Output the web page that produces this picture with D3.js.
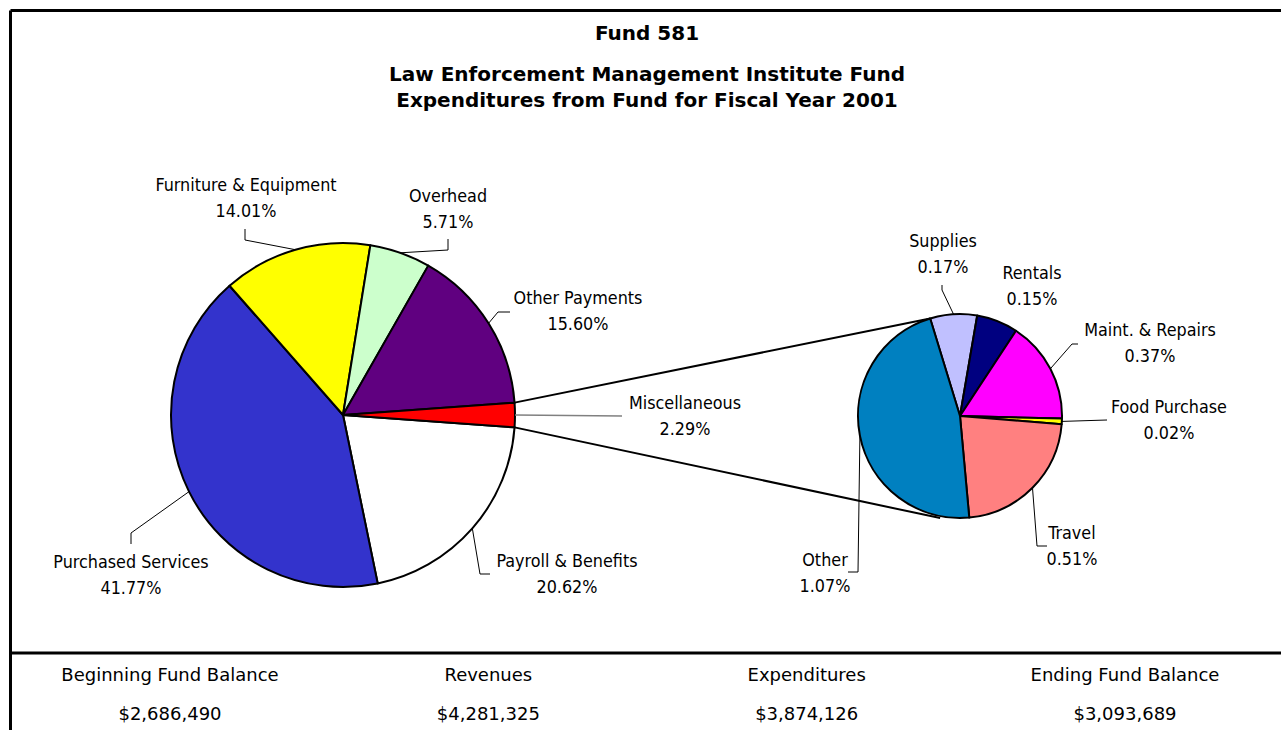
<!DOCTYPE html>
<html>
<head>
<meta charset="utf-8">
<script src="https://cdn.jsdelivr.net/npm/d3@7"></script>
<style>
  html, body { margin: 0; padding: 0; background: #fff; }
  svg { display: block; }
  .lbl { font-family: "DejaVu Sans Condensed", "DejaVu Sans", sans-serif; font-stretch: condensed; font-size: 17.8px; fill: #000; }
  .title { font-family: "DejaVu Sans", sans-serif; font-weight: bold; font-size: 20px; fill: #000; }
  .foot { font-family: "DejaVu Sans", sans-serif; font-size: 18px; fill: #000; }
</style>
</head>
<body>
<svg id="chart" width="1281" height="730"></svg>
<script>
// ---- data ----
const titleLines = ["Fund 581", "Law Enforcement Management Institute Fund", "Expenditures from Fund for Fiscal Year 2001"];
const mainCategories = ["Payroll & Benefits", "Purchased Services", "Furniture & Equipment", "Overhead", "Other Payments", "Miscellaneous"];
const mainValues = [20.62, 41.77, 14.01, 5.71, 15.60, 2.29];
const mainColors = ["#FFFFFF", "#3333CC", "#FFFF00", "#CCFFCC", "#600080", "#FF0000"];
const subCategories = ["Supplies", "Rentals", "Maint. & Repairs", "Food Purchase", "Travel", "Other"];
const subValues = [0.17, 0.15, 0.37, 0.02, 0.51, 1.07];
const subColors = ["#C0C0FF", "#000080", "#FF00FF", "#FFFF00", "#FF8080", "#0080C0"];
const summaryLabels = ["Beginning Fund Balance", "Revenues", "Expenditures", "Ending Fund Balance"];
const summaryValues = ["$2,686,490", "$4,281,325", "$3,874,126", "$3,093,689"];

// ---- layout ----
const W = 1281, H = 730;
const mainC = { x: 343, y: 415, r: 172 };
const subC = { x: 960, y: 416, r: 102 };
const deg = Math.PI / 180;
const subStart = -17 * deg;
const subBottomConnector = 191 * deg;

// label layout: text centre x, first baseline y, leader points (label side first)
const mainLabelLayout = {
  "Payroll & Benefits":   { x: 567, y: 567, leader: [[490, 574], [480, 574]] },
  "Purchased Services":   { x: 131, y: 568, leader: [[131, 544], [131, 533]] },
  "Furniture & Equipment":{ x: 246, y: 191, leader: [[245, 229], [245, 240]] },
  "Overhead":             { x: 448, y: 202, leader: [[448, 239], [448, 250]] },
  "Other Payments":       { x: 578, y: 304, leader: [[510, 312], [498, 312]] },
  "Miscellaneous":        { x: 685, y: 409, leader: [[622, 416]], gray: true }
};
const subLabelLayout = {
  "Supplies":         { x: 943, y: 247, leader: [[942, 285], [942, 290]] },
  "Rentals":          { x: 1032, y: 279, leader: null },
  "Maint. & Repairs": { x: 1150, y: 336, leader: [[1078, 344], [1072, 344]] },
  "Food Purchase":    { x: 1169, y: 413, leader: [[1107, 420]] },
  "Travel":           { x: 1072, y: 539, leader: [[1047, 546], [1037, 546]] },
  "Other":            { x: 825, y: 566, leader: [[848, 572], [858, 572]] }
};
const lineGap = 26;

const svg = d3.select("#chart");

// frame
const frame = svg.append("g").attr("stroke", "#000").attr("stroke-width", 3);
frame.append("line").attr("x1", 10.5).attr("y1", 10.5).attr("x2", W).attr("y2", 10.5);
frame.append("line").attr("x1", 10.5).attr("y1", 10.5).attr("x2", 10.5).attr("y2", H);
frame.append("line").attr("x1", 10.5).attr("y1", 653).attr("x2", W).attr("y2", 653);

// title
const titleY = [40, 81, 107];
svg.append("g").selectAll("text").data(titleLines).join("text")
  .attr("class", "title").attr("text-anchor", "middle")
  .attr("x", 647).attr("y", (d, i) => titleY[i]).text(d => d);

// pies
const mainTotal = d3.sum(mainValues);
const miscShare = mainValues[mainValues.length - 1] / mainTotal;
const mainStart = Math.PI / 2 + miscShare * Math.PI;
const mainPie = d3.pie().sort(null).value(d => d.v).startAngle(mainStart).endAngle(mainStart + 2 * Math.PI);
const mainData = mainPie(mainCategories.map((c, i) => ({ c, v: mainValues[i], col: mainColors[i] })));
const subPie = d3.pie().sort(null).value(d => d.v).startAngle(subStart).endAngle(subStart + 2 * Math.PI);
const subData = subPie(subCategories.map((c, i) => ({ c, v: subValues[i], col: subColors[i] })));

const mainArc = d3.arc().innerRadius(0).outerRadius(mainC.r);
const subArc = d3.arc().innerRadius(0).outerRadius(subC.r);

function polar(c, a, r) { return [c.x + r * Math.sin(a), c.y - r * Math.cos(a)]; }

// connector lines (misc slice -> secondary pie)
const misc = mainData[mainData.length - 1];
const p1 = polar(mainC, misc.startAngle, mainC.r), p2 = polar(subC, subStart, subC.r);
const p3 = polar(mainC, misc.endAngle, mainC.r), p4 = polar(subC, subBottomConnector, subC.r + 2);
const conn = svg.append("g").attr("stroke", "#000").attr("stroke-width", 2);
conn.append("line").attr("x1", p1[0]).attr("y1", p1[1]).attr("x2", p2[0]).attr("y2", p2[1]);
conn.append("line").attr("x1", p3[0]).attr("y1", p3[1]).attr("x2", p4[0]).attr("y2", p4[1]);

svg.append("g").attr("transform", `translate(${mainC.x},${mainC.y})`)
  .selectAll("path").data(mainData).join("path")
  .attr("d", mainArc).attr("fill", d => d.data.col)
  .attr("stroke", "#000").attr("stroke-width", 2).attr("stroke-linejoin", "round");

svg.append("g").attr("transform", `translate(${subC.x},${subC.y})`)
  .selectAll("path").data(subData).join("path")
  .attr("d", subArc).attr("fill", d => d.data.col)
  .attr("stroke", "#000").attr("stroke-width", 2).attr("stroke-linejoin", "round");

// labels + leaders
function drawLabels(data, center, layout, values) {
  const g = svg.append("g");
  data.forEach((d, i) => {
    const L = layout[d.data.c];
    if (!L) return;
    if (L.leader) {
      const mid = (d.startAngle + d.endAngle) / 2;
      const pts = L.leader.concat([polar(center, mid, center.r)]);
      g.append("path").attr("d", d3.line()(pts)).attr("fill", "none")
        .attr("stroke", L.gray ? "#808080" : "#000").attr("stroke-width", L.gray ? 1.5 : 1);
    }
    const t = g.append("text").attr("class", "lbl").attr("text-anchor", "middle");
    t.append("tspan").attr("x", L.x).attr("y", L.y).text(d.data.c);
    t.append("tspan").attr("x", L.x).attr("y", L.y + lineGap).text(d.data.v.toFixed(2) + "%");
  });
}
drawLabels(mainData, mainC, mainLabelLayout);
drawLabels(subData, subC, subLabelLayout);

// summary footer
const footX = d3.scalePoint().domain(summaryLabels).range([170, 1125]);
const foot = svg.append("g");
foot.selectAll("text.h").data(summaryLabels).join("text")
  .attr("class", "foot h").attr("text-anchor", "middle")
  .attr("x", d => footX(d)).attr("y", 681).text(d => d);
foot.selectAll("text.v").data(summaryValues).join("text")
  .attr("class", "foot v").attr("text-anchor", "middle")
  .attr("x", (d, i) => footX(summaryLabels[i])).attr("y", 720).text(d => d);
</script>
</body>
</html>
